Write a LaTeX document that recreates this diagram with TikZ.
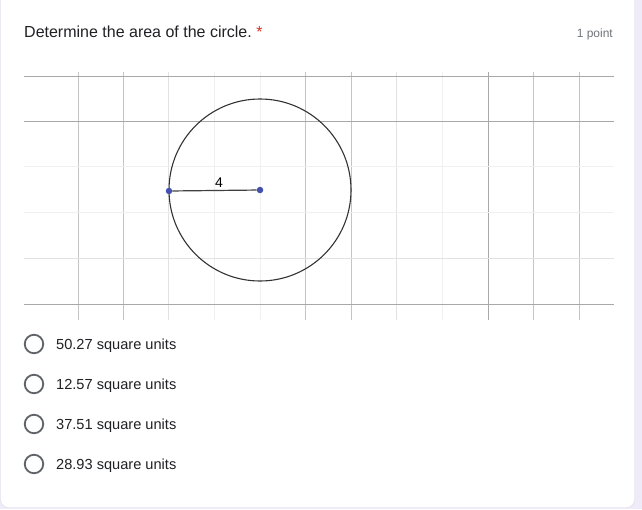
\documentclass[tikz,border=0pt]{standalone}
\usepackage{fontspec}
\setmainfont{Liberation Sans}
\definecolor{pagebg}{HTML}{F0EBF8}
\definecolor{cardline}{HTML}{DADCE0}
\definecolor{gdark}{HTML}{A8A8A8}
\definecolor{gmid}{HTML}{C4C4C4}
\definecolor{glight}{HTML}{E2E2E2}
\definecolor{gfaint}{HTML}{F0F0F0}
\definecolor{ptblue}{HTML}{4450B0}
\definecolor{txt}{HTML}{202124}
\definecolor{subtxt}{HTML}{70757A}
\definecolor{radio}{HTML}{5F6368}
\definecolor{req}{HTML}{D93025}
\tikzset{
  hline/.style={line width=0.9pt},
  vline/.style={line width=0.9pt},
  radiobtn/.style={circle, draw=radio, line width=1.8pt, minimum size=18.5pt, inner sep=0pt},
  answer/.style={anchor=base west, text=txt, font=\fontsize{14.6}{16}\selectfont, inner sep=0pt},
  geopt/.style={circle, fill=ptblue, minimum size=6.5pt, inner sep=0pt},
}
\begin{document}
\begin{tikzpicture}[x=1pt,y=-1pt]
\useasboundingbox (0,0) rectangle (642,509);
\fill[pagebg] (0,0) rectangle (642,509);
\draw[cardline, fill=white, rounded corners=8pt] (0.5,-20) rectangle (634.5,507.5);
% title
\node[anchor=base west, text=txt, font=\fontsize{16}{18}\selectfont, inner sep=0pt] (title) at (24,37) {Determine the area of the circle.};
\node[anchor=base west, text=req, font=\fontsize{16}{18}\selectfont, inner sep=0pt] (star) at ([xshift=4pt]title.base east) {*};
\node[anchor=base east, text=subtxt, font=\fontsize{12}{14}\selectfont, inner sep=0pt] (pts) at (613,37) {1 point};
% grid: vertical lines
\foreach \x/\c in {78/gmid,123/gmid,168.3/glight,214/gfaint,260/gfaint,305.3/gmid,351.3/gmid,396.7/glight,442.7/gfaint,488.3/gdark,533.7/gmid,579.3/gmid}
  \draw[vline,\c] (\x,72) -- (\x,319.5);
% grid: horizontal lines
\foreach \y/\c in {76/gdark,121.5/gdark,166.7/gfaint,212.5/gfaint,258.8/glight,304.3/gdark}
  \draw[hline,\c] (24,\y) -- (614,\y);
% geometry
\node[circle, draw=black!80, line width=1.1pt, minimum size=182pt, inner sep=0pt] (circ) at (260,190) {};
\node[geopt] (ctr) at (260,190) {};
\node[geopt] (lp) at (169,191) {};
\draw[black!75, line width=1.2pt] (lp) -- (ctr);
\node[anchor=base, text=black, font=\fontsize{14}{16}\selectfont, inner sep=0pt] (lbl) at (219,187) {4};
% answers
\foreach \i/\t in {0/50.27,1/12.57,2/37.51,3/28.93}{
  \node[radiobtn] (r\i) at (34,344+40*\i) {};
  \node[answer] (a\i) at (56,349+40*\i) {\t\ square units};
}
\end{tikzpicture}
\end{document}
